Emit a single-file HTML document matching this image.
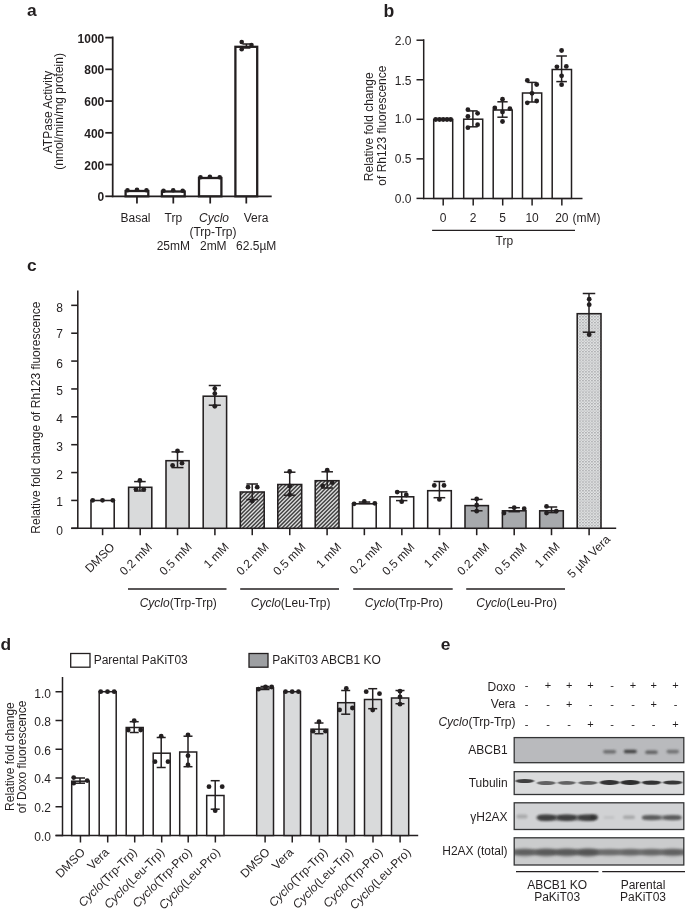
<!DOCTYPE html>
<html lang="en"><head><meta charset="utf-8"><title>Figure</title>
<style>
html,body{margin:0;padding:0;background:#fff;}
svg{display:block;font-family:"Liberation Sans",sans-serif;will-change:transform;transform:translateZ(0);}
text{fill:#231f20;}
</style></head><body>
<svg width="685" height="913" viewBox="0 0 685 913">
<rect width="685" height="913" fill="#fff"/>

<defs>
<pattern id="hatch" width="2.6" height="2.6" patternUnits="userSpaceOnUse" patternTransform="rotate(-45)">
<rect width="2.6" height="2.6" fill="#c9cacc"/><rect width="2.6" height="1.1" fill="#3a3a3a"/>
</pattern>
<pattern id="dots" width="3" height="2.9" patternUnits="userSpaceOnUse">
<rect width="3" height="2.9" fill="#e4e5e6"/><rect x="0.2" y="0.2" width="1.5" height="1.1" fill="#8f9193"/><rect x="1.7" y="1.65" width="1.3" height="1.0" fill="#b4b6b8"/>
</pattern>
<filter id="b1" x="-30%" y="-100%" width="160%" height="300%"><feGaussianBlur stdDeviation="1.1 0.9"/></filter>
<filter id="b2" x="-30%" y="-100%" width="160%" height="300%"><feGaussianBlur stdDeviation="2.0 1.4"/></filter>
<filter id="b3" x="-30%" y="-100%" width="160%" height="300%"><feGaussianBlur stdDeviation="0.8 0.6"/></filter>
<filter id="b4" x="-10%" y="-100%" width="120%" height="300%"><feGaussianBlur stdDeviation="1.5 1.2"/></filter>
<clipPath id="clipE"><rect x="500" y="730" width="185" height="140"/></clipPath>
</defs>

<text x="27.00" y="15.60" font-size="17.4" text-anchor="start" font-weight="bold" >a</text>
<text x="383.40" y="17.20" font-size="17.6" text-anchor="start" font-weight="bold" >b</text>
<text x="27.00" y="271.20" font-size="17.4" text-anchor="start" font-weight="bold" >c</text>
<text x="0.40" y="649.90" font-size="17.4" text-anchor="start" font-weight="bold" >d</text>
<text x="440.80" y="649.60" font-size="17.4" text-anchor="start" font-weight="bold" >e</text>
<line x1="112.70" y1="36.52" x2="112.70" y2="197.18" stroke="#231f20" stroke-width="1.75" />
<line x1="111.83" y1="196.30" x2="271.70" y2="196.30" stroke="#231f20" stroke-width="1.75" />
<line x1="105.30" y1="196.30" x2="112.70" y2="196.30" stroke="#231f20" stroke-width="1.75" />
<text x="104.30" y="200.80" font-size="12" text-anchor="end" font-weight="bold" >0</text>
<line x1="105.30" y1="164.56" x2="112.70" y2="164.56" stroke="#231f20" stroke-width="1.75" />
<text x="104.30" y="169.56" font-size="12" text-anchor="end" font-weight="bold" >200</text>
<line x1="105.30" y1="132.82" x2="112.70" y2="132.82" stroke="#231f20" stroke-width="1.75" />
<text x="104.30" y="137.82" font-size="12" text-anchor="end" font-weight="bold" >400</text>
<line x1="105.30" y1="101.08" x2="112.70" y2="101.08" stroke="#231f20" stroke-width="1.75" />
<text x="104.30" y="106.08" font-size="12" text-anchor="end" font-weight="bold" >600</text>
<line x1="105.30" y1="69.34" x2="112.70" y2="69.34" stroke="#231f20" stroke-width="1.75" />
<text x="104.30" y="74.34" font-size="12" text-anchor="end" font-weight="bold" >800</text>
<line x1="105.30" y1="37.60" x2="112.70" y2="37.60" stroke="#231f20" stroke-width="1.75" />
<text x="104.30" y="42.60" font-size="12" text-anchor="end" font-weight="bold" >1000</text>
<rect x="125.60" y="191.00" width="22.70" height="5.30" fill="#fff" stroke="#231f20" stroke-width="2.3" />
<line x1="136.95" y1="196.30" x2="136.95" y2="203.50" stroke="#231f20" stroke-width="1.75" />
<rect x="161.90" y="191.50" width="22.80" height="4.80" fill="#fff" stroke="#231f20" stroke-width="2.3" />
<line x1="173.30" y1="196.30" x2="173.30" y2="203.50" stroke="#231f20" stroke-width="1.75" />
<rect x="199.00" y="178.00" width="22.40" height="18.30" fill="#fff" stroke="#231f20" stroke-width="2.3" />
<line x1="210.20" y1="196.30" x2="210.20" y2="203.50" stroke="#231f20" stroke-width="1.75" />
<rect x="235.40" y="46.80" width="21.80" height="149.50" fill="#fff" stroke="#231f20" stroke-width="2.3" />
<line x1="246.30" y1="196.30" x2="246.30" y2="203.50" stroke="#231f20" stroke-width="1.75" />
<circle cx="127.50" cy="190.30" r="2.3" fill="#231f20"/>
<circle cx="137.00" cy="189.80" r="2.3" fill="#231f20"/>
<circle cx="146.50" cy="190.30" r="2.3" fill="#231f20"/>
<circle cx="163.50" cy="190.80" r="2.3" fill="#231f20"/>
<circle cx="173.20" cy="190.30" r="2.3" fill="#231f20"/>
<circle cx="182.70" cy="190.80" r="2.3" fill="#231f20"/>
<circle cx="200.50" cy="177.30" r="2.3" fill="#231f20"/>
<circle cx="209.90" cy="176.80" r="2.3" fill="#231f20"/>
<circle cx="219.70" cy="177.30" r="2.3" fill="#231f20"/>
<circle cx="241.70" cy="42.00" r="2.3" fill="#231f20"/>
<circle cx="241.70" cy="49.20" r="2.3" fill="#231f20"/>
<circle cx="251.50" cy="45.00" r="2.3" fill="#231f20"/>
<line x1="246.40" y1="44.00" x2="246.40" y2="48.00" stroke="#231f20" stroke-width="1.5" />
<line x1="242.40" y1="44.00" x2="250.40" y2="44.00" stroke="#231f20" stroke-width="1.5" />
<line x1="242.40" y1="48.00" x2="250.40" y2="48.00" stroke="#231f20" stroke-width="1.5" />
<text x="135.50" y="221.80" font-size="12" text-anchor="middle" font-weight="normal" >Basal</text>
<text x="173.30" y="221.80" font-size="12" text-anchor="middle" font-weight="normal" >Trp</text>
<text x="214.00" y="221.80" font-size="12" text-anchor="middle" font-weight="normal" ><tspan font-style="italic">Cyclo</tspan></text>
<text x="256.00" y="221.80" font-size="12" text-anchor="middle" font-weight="normal" >Vera</text>
<text x="213.00" y="236.00" font-size="12" text-anchor="middle" font-weight="normal" >(Trp-Trp)</text>
<text x="173.30" y="250.00" font-size="12" text-anchor="middle" font-weight="normal" >25mM</text>
<text x="213.30" y="250.00" font-size="12" text-anchor="middle" font-weight="normal" >2mM</text>
<text x="256.20" y="250.00" font-size="12" text-anchor="middle" font-weight="normal" >62.5µM</text>
<text x="51.90" y="112.00" font-size="12" text-anchor="middle" font-weight="normal" transform="rotate(-90 51.90 112.00)" >ATPase Activity</text>
<text x="63.30" y="111.40" font-size="12" text-anchor="middle" font-weight="normal" transform="rotate(-90 63.30 111.40)" >(nmol/min/mg protein)</text>
<line x1="423.70" y1="39.25" x2="423.70" y2="199.15" stroke="#231f20" stroke-width="1.5" />
<line x1="422.95" y1="198.40" x2="582.50" y2="198.40" stroke="#231f20" stroke-width="1.5" />
<line x1="416.50" y1="198.40" x2="423.70" y2="198.40" stroke="#231f20" stroke-width="1.5" />
<text x="411.40" y="203.00" font-size="12" text-anchor="end" font-weight="normal" >0.0</text>
<line x1="416.50" y1="158.85" x2="423.70" y2="158.85" stroke="#231f20" stroke-width="1.5" />
<text x="411.40" y="162.90" font-size="12" text-anchor="end" font-weight="normal" >0.5</text>
<line x1="416.50" y1="119.30" x2="423.70" y2="119.30" stroke="#231f20" stroke-width="1.5" />
<text x="411.40" y="123.10" font-size="12" text-anchor="end" font-weight="normal" >1.0</text>
<line x1="416.50" y1="79.75" x2="423.70" y2="79.75" stroke="#231f20" stroke-width="1.5" />
<text x="411.40" y="85.10" font-size="12" text-anchor="end" font-weight="normal" >1.5</text>
<line x1="416.50" y1="40.20" x2="423.70" y2="40.20" stroke="#231f20" stroke-width="1.5" />
<text x="411.40" y="44.65" font-size="12" text-anchor="end" font-weight="normal" >2.0</text>
<rect x="433.70" y="119.40" width="19.00" height="79.00" fill="#fff" stroke="#231f20" stroke-width="1.5" />
<line x1="443.20" y1="198.40" x2="443.20" y2="205.50" stroke="#231f20" stroke-width="1.5" />
<rect x="463.70" y="119.20" width="19.00" height="79.20" fill="#fff" stroke="#231f20" stroke-width="1.5" />
<line x1="473.20" y1="198.40" x2="473.20" y2="205.50" stroke="#231f20" stroke-width="1.5" />
<rect x="493.20" y="110.00" width="19.00" height="88.40" fill="#fff" stroke="#231f20" stroke-width="1.5" />
<line x1="502.70" y1="198.40" x2="502.70" y2="205.50" stroke="#231f20" stroke-width="1.5" />
<rect x="522.50" y="93.00" width="19.20" height="105.40" fill="#fff" stroke="#231f20" stroke-width="1.5" />
<line x1="532.10" y1="198.40" x2="532.10" y2="205.50" stroke="#231f20" stroke-width="1.5" />
<rect x="552.20" y="69.50" width="19.30" height="128.90" fill="#fff" stroke="#231f20" stroke-width="1.5" />
<line x1="561.85" y1="198.40" x2="561.85" y2="205.50" stroke="#231f20" stroke-width="1.5" />
<text x="443.20" y="222.00" font-size="12" text-anchor="middle" font-weight="normal" >0</text>
<text x="473.20" y="222.00" font-size="12" text-anchor="middle" font-weight="normal" >2</text>
<text x="502.70" y="222.00" font-size="12" text-anchor="middle" font-weight="normal" >5</text>
<text x="532.10" y="222.00" font-size="12" text-anchor="middle" font-weight="normal" >10</text>
<text x="561.85" y="222.00" font-size="12" text-anchor="middle" font-weight="normal" >20</text>
<text x="572.40" y="222.00" font-size="12" text-anchor="start" font-weight="normal" >(mM)</text>
<line x1="432.10" y1="230.30" x2="575.00" y2="230.30" stroke="#231f20" stroke-width="1.3" />
<text x="504.40" y="244.80" font-size="12" text-anchor="middle" font-weight="normal" >Trp</text>
<text x="373.50" y="126.80" font-size="12" text-anchor="middle" font-weight="normal" transform="rotate(-90 373.50 126.80)" >Relative fold change</text>
<text x="385.90" y="125.60" font-size="12" text-anchor="middle" font-weight="normal" transform="rotate(-90 385.90 125.60)" >of Rh123 fluorescence</text>
<circle cx="435.70" cy="119.50" r="2.4" fill="#231f20"/>
<circle cx="439.50" cy="119.50" r="2.4" fill="#231f20"/>
<circle cx="443.20" cy="119.50" r="2.4" fill="#231f20"/>
<circle cx="447.00" cy="119.50" r="2.4" fill="#231f20"/>
<circle cx="450.70" cy="119.50" r="2.4" fill="#231f20"/>
<line x1="472.90" y1="110.90" x2="472.90" y2="126.80" stroke="#231f20" stroke-width="1.5" />
<line x1="468.15" y1="110.90" x2="477.65" y2="110.90" stroke="#231f20" stroke-width="1.5" />
<line x1="468.15" y1="126.80" x2="477.65" y2="126.80" stroke="#231f20" stroke-width="1.5" />
<circle cx="467.90" cy="109.70" r="2.4" fill="#231f20"/>
<circle cx="477.60" cy="113.30" r="2.4" fill="#231f20"/>
<circle cx="467.90" cy="116.50" r="2.4" fill="#231f20"/>
<circle cx="477.60" cy="124.70" r="2.4" fill="#231f20"/>
<circle cx="467.90" cy="127.70" r="2.4" fill="#231f20"/>
<line x1="502.50" y1="101.80" x2="502.50" y2="117.20" stroke="#231f20" stroke-width="1.5" />
<line x1="497.35" y1="101.80" x2="507.65" y2="101.80" stroke="#231f20" stroke-width="1.5" />
<line x1="497.35" y1="117.20" x2="507.65" y2="117.20" stroke="#231f20" stroke-width="1.5" />
<circle cx="502.50" cy="99.20" r="2.4" fill="#231f20"/>
<circle cx="494.80" cy="108.00" r="2.4" fill="#231f20"/>
<circle cx="509.90" cy="108.70" r="2.4" fill="#231f20"/>
<circle cx="502.50" cy="111.90" r="2.4" fill="#231f20"/>
<circle cx="502.50" cy="121.50" r="2.4" fill="#231f20"/>
<line x1="532.00" y1="82.40" x2="532.00" y2="102.00" stroke="#231f20" stroke-width="1.5" />
<line x1="527.30" y1="82.40" x2="536.70" y2="82.40" stroke="#231f20" stroke-width="1.5" />
<line x1="527.30" y1="102.00" x2="536.70" y2="102.00" stroke="#231f20" stroke-width="1.5" />
<circle cx="527.30" cy="80.40" r="2.4" fill="#231f20"/>
<circle cx="536.70" cy="84.50" r="2.4" fill="#231f20"/>
<circle cx="532.00" cy="93.30" r="2.4" fill="#231f20"/>
<circle cx="527.30" cy="102.80" r="2.4" fill="#231f20"/>
<circle cx="536.70" cy="101.00" r="2.4" fill="#231f20"/>
<line x1="561.60" y1="56.00" x2="561.60" y2="81.60" stroke="#231f20" stroke-width="1.5" />
<line x1="556.30" y1="56.00" x2="566.90" y2="56.00" stroke="#231f20" stroke-width="1.5" />
<line x1="556.30" y1="81.60" x2="566.90" y2="81.60" stroke="#231f20" stroke-width="1.5" />
<circle cx="561.60" cy="50.50" r="2.4" fill="#231f20"/>
<circle cx="556.90" cy="66.80" r="2.4" fill="#231f20"/>
<circle cx="566.30" cy="66.40" r="2.4" fill="#231f20"/>
<circle cx="561.60" cy="75.80" r="2.4" fill="#231f20"/>
<circle cx="561.60" cy="84.70" r="2.4" fill="#231f20"/>
<line x1="77.80" y1="290.50" x2="77.80" y2="529.07" stroke="#231f20" stroke-width="1.55" />
<line x1="71.20" y1="528.30" x2="616.20" y2="528.30" stroke="#231f20" stroke-width="1.55" />
<line x1="71.20" y1="528.30" x2="77.80" y2="528.30" stroke="#231f20" stroke-width="1.55" />
<text x="63.00" y="534.80" font-size="12" text-anchor="end" font-weight="normal" >0</text>
<line x1="71.20" y1="500.43" x2="77.80" y2="500.43" stroke="#231f20" stroke-width="1.55" />
<text x="63.00" y="505.83" font-size="12" text-anchor="end" font-weight="normal" >1</text>
<line x1="71.20" y1="472.56" x2="77.80" y2="472.56" stroke="#231f20" stroke-width="1.55" />
<text x="63.00" y="478.61" font-size="12" text-anchor="end" font-weight="normal" >2</text>
<line x1="71.20" y1="444.69" x2="77.80" y2="444.69" stroke="#231f20" stroke-width="1.55" />
<text x="63.00" y="451.29" font-size="12" text-anchor="end" font-weight="normal" >3</text>
<line x1="71.20" y1="416.82" x2="77.80" y2="416.82" stroke="#231f20" stroke-width="1.55" />
<text x="63.00" y="422.72" font-size="12" text-anchor="end" font-weight="normal" >4</text>
<line x1="71.20" y1="388.95" x2="77.80" y2="388.95" stroke="#231f20" stroke-width="1.55" />
<text x="63.00" y="394.95" font-size="12" text-anchor="end" font-weight="normal" >5</text>
<line x1="71.20" y1="361.08" x2="77.80" y2="361.08" stroke="#231f20" stroke-width="1.55" />
<text x="63.00" y="367.88" font-size="12" text-anchor="end" font-weight="normal" >6</text>
<line x1="71.20" y1="333.21" x2="77.80" y2="333.21" stroke="#231f20" stroke-width="1.55" />
<text x="63.00" y="338.41" font-size="12" text-anchor="end" font-weight="normal" >7</text>
<line x1="71.20" y1="305.34" x2="77.80" y2="305.34" stroke="#231f20" stroke-width="1.55" />
<text x="63.00" y="311.54" font-size="12" text-anchor="end" font-weight="normal" >8</text>
<text x="40.00" y="417.60" font-size="12" text-anchor="middle" font-weight="normal" transform="rotate(-90 40.00 417.60)" >Relative fold change of Rh123 fluorescence</text>
<rect x="91.00" y="500.50" width="23.20" height="27.80" fill="#fff" stroke="#231f20" stroke-width="1.55" />
<line x1="102.60" y1="528.30" x2="102.60" y2="535.20" stroke="#231f20" stroke-width="1.55" />
<text x="115.40" y="547.80" font-size="12" text-anchor="end" font-weight="normal" transform="rotate(-45 115.40 547.80)" >DMSO</text>
<rect x="128.60" y="487.30" width="23.20" height="41.00" fill="#d9dadb" stroke="#231f20" stroke-width="1.55" />
<line x1="140.20" y1="528.30" x2="140.20" y2="535.20" stroke="#231f20" stroke-width="1.55" />
<text x="152.90" y="547.80" font-size="12" text-anchor="end" font-weight="normal" transform="rotate(-45 152.90 547.80)" >0.2 mM</text>
<rect x="166.00" y="460.70" width="23.10" height="67.60" fill="#d9dadb" stroke="#231f20" stroke-width="1.55" />
<line x1="177.55" y1="528.30" x2="177.55" y2="535.20" stroke="#231f20" stroke-width="1.55" />
<text x="192.55" y="547.80" font-size="12" text-anchor="end" font-weight="normal" transform="rotate(-45 192.55 547.80)" >0.5 mM</text>
<rect x="203.20" y="396.20" width="23.40" height="132.10" fill="#d9dadb" stroke="#231f20" stroke-width="1.55" />
<line x1="214.90" y1="528.30" x2="214.90" y2="535.20" stroke="#231f20" stroke-width="1.55" />
<text x="229.60" y="547.80" font-size="12" text-anchor="end" font-weight="normal" transform="rotate(-45 229.60 547.80)" >1 mM</text>
<clipPath id="hc240"><rect x="240.30" y="492.00" width="23.90" height="36.30"/></clipPath>
<g clip-path="url(#hc240)"><rect x="240.30" y="492.00" width="23.90" height="36.30" fill="#dfdfdf"/>
<line x1="238.30" y1="489.40" x2="266.20" y2="461.50" stroke="#3f3f3f" stroke-width="1.42"/>
<line x1="238.30" y1="493.32" x2="266.20" y2="465.42" stroke="#3f3f3f" stroke-width="1.42"/>
<line x1="238.30" y1="497.24" x2="266.20" y2="469.34" stroke="#3f3f3f" stroke-width="1.42"/>
<line x1="238.30" y1="501.16" x2="266.20" y2="473.26" stroke="#3f3f3f" stroke-width="1.42"/>
<line x1="238.30" y1="505.08" x2="266.20" y2="477.18" stroke="#3f3f3f" stroke-width="1.42"/>
<line x1="238.30" y1="509.00" x2="266.20" y2="481.10" stroke="#3f3f3f" stroke-width="1.42"/>
<line x1="238.30" y1="512.92" x2="266.20" y2="485.02" stroke="#3f3f3f" stroke-width="1.42"/>
<line x1="238.30" y1="516.84" x2="266.20" y2="488.94" stroke="#3f3f3f" stroke-width="1.42"/>
<line x1="238.30" y1="520.76" x2="266.20" y2="492.86" stroke="#3f3f3f" stroke-width="1.42"/>
<line x1="238.30" y1="524.68" x2="266.20" y2="496.78" stroke="#3f3f3f" stroke-width="1.42"/>
<line x1="238.30" y1="528.60" x2="266.20" y2="500.70" stroke="#3f3f3f" stroke-width="1.42"/>
<line x1="238.30" y1="532.52" x2="266.20" y2="504.62" stroke="#3f3f3f" stroke-width="1.42"/>
<line x1="238.30" y1="536.44" x2="266.20" y2="508.54" stroke="#3f3f3f" stroke-width="1.42"/>
<line x1="238.30" y1="540.36" x2="266.20" y2="512.46" stroke="#3f3f3f" stroke-width="1.42"/>
<line x1="238.30" y1="544.28" x2="266.20" y2="516.38" stroke="#3f3f3f" stroke-width="1.42"/>
<line x1="238.30" y1="548.20" x2="266.20" y2="520.30" stroke="#3f3f3f" stroke-width="1.42"/>
<line x1="238.30" y1="552.12" x2="266.20" y2="524.22" stroke="#3f3f3f" stroke-width="1.42"/>
<line x1="238.30" y1="556.04" x2="266.20" y2="528.14" stroke="#3f3f3f" stroke-width="1.42"/>
</g>
<rect x="240.30" y="492.00" width="23.90" height="36.30" fill="none" stroke="#231f20" stroke-width="1.55" />
<line x1="252.25" y1="528.30" x2="252.25" y2="535.20" stroke="#231f20" stroke-width="1.55" />
<text x="269.55" y="547.80" font-size="12" text-anchor="end" font-weight="normal" transform="rotate(-45 269.55 547.80)" >0.2 mM</text>
<clipPath id="hc277"><rect x="277.80" y="484.50" width="23.90" height="43.80"/></clipPath>
<g clip-path="url(#hc277)"><rect x="277.80" y="484.50" width="23.90" height="43.80" fill="#dfdfdf"/>
<line x1="275.80" y1="483.26" x2="303.70" y2="455.36" stroke="#3f3f3f" stroke-width="1.42"/>
<line x1="275.80" y1="487.18" x2="303.70" y2="459.28" stroke="#3f3f3f" stroke-width="1.42"/>
<line x1="275.80" y1="491.10" x2="303.70" y2="463.20" stroke="#3f3f3f" stroke-width="1.42"/>
<line x1="275.80" y1="495.02" x2="303.70" y2="467.12" stroke="#3f3f3f" stroke-width="1.42"/>
<line x1="275.80" y1="498.94" x2="303.70" y2="471.04" stroke="#3f3f3f" stroke-width="1.42"/>
<line x1="275.80" y1="502.86" x2="303.70" y2="474.96" stroke="#3f3f3f" stroke-width="1.42"/>
<line x1="275.80" y1="506.78" x2="303.70" y2="478.88" stroke="#3f3f3f" stroke-width="1.42"/>
<line x1="275.80" y1="510.70" x2="303.70" y2="482.80" stroke="#3f3f3f" stroke-width="1.42"/>
<line x1="275.80" y1="514.62" x2="303.70" y2="486.72" stroke="#3f3f3f" stroke-width="1.42"/>
<line x1="275.80" y1="518.54" x2="303.70" y2="490.64" stroke="#3f3f3f" stroke-width="1.42"/>
<line x1="275.80" y1="522.46" x2="303.70" y2="494.56" stroke="#3f3f3f" stroke-width="1.42"/>
<line x1="275.80" y1="526.38" x2="303.70" y2="498.48" stroke="#3f3f3f" stroke-width="1.42"/>
<line x1="275.80" y1="530.30" x2="303.70" y2="502.40" stroke="#3f3f3f" stroke-width="1.42"/>
<line x1="275.80" y1="534.22" x2="303.70" y2="506.32" stroke="#3f3f3f" stroke-width="1.42"/>
<line x1="275.80" y1="538.14" x2="303.70" y2="510.24" stroke="#3f3f3f" stroke-width="1.42"/>
<line x1="275.80" y1="542.06" x2="303.70" y2="514.16" stroke="#3f3f3f" stroke-width="1.42"/>
<line x1="275.80" y1="545.98" x2="303.70" y2="518.08" stroke="#3f3f3f" stroke-width="1.42"/>
<line x1="275.80" y1="549.90" x2="303.70" y2="522.00" stroke="#3f3f3f" stroke-width="1.42"/>
<line x1="275.80" y1="553.82" x2="303.70" y2="525.92" stroke="#3f3f3f" stroke-width="1.42"/>
<line x1="275.80" y1="557.74" x2="303.70" y2="529.84" stroke="#3f3f3f" stroke-width="1.42"/>
</g>
<rect x="277.80" y="484.50" width="23.90" height="43.80" fill="none" stroke="#231f20" stroke-width="1.55" />
<line x1="289.75" y1="528.30" x2="289.75" y2="535.20" stroke="#231f20" stroke-width="1.55" />
<text x="306.25" y="547.80" font-size="12" text-anchor="end" font-weight="normal" transform="rotate(-45 306.25 547.80)" >0.5 mM</text>
<clipPath id="hc315"><rect x="315.20" y="480.70" width="23.80" height="47.60"/></clipPath>
<g clip-path="url(#hc315)"><rect x="315.20" y="480.70" width="23.80" height="47.60" fill="#dfdfdf"/>
<line x1="313.20" y1="481.14" x2="341.00" y2="453.34" stroke="#3f3f3f" stroke-width="1.42"/>
<line x1="313.20" y1="485.06" x2="341.00" y2="457.26" stroke="#3f3f3f" stroke-width="1.42"/>
<line x1="313.20" y1="488.98" x2="341.00" y2="461.18" stroke="#3f3f3f" stroke-width="1.42"/>
<line x1="313.20" y1="492.90" x2="341.00" y2="465.10" stroke="#3f3f3f" stroke-width="1.42"/>
<line x1="313.20" y1="496.82" x2="341.00" y2="469.02" stroke="#3f3f3f" stroke-width="1.42"/>
<line x1="313.20" y1="500.74" x2="341.00" y2="472.94" stroke="#3f3f3f" stroke-width="1.42"/>
<line x1="313.20" y1="504.66" x2="341.00" y2="476.86" stroke="#3f3f3f" stroke-width="1.42"/>
<line x1="313.20" y1="508.58" x2="341.00" y2="480.78" stroke="#3f3f3f" stroke-width="1.42"/>
<line x1="313.20" y1="512.50" x2="341.00" y2="484.70" stroke="#3f3f3f" stroke-width="1.42"/>
<line x1="313.20" y1="516.42" x2="341.00" y2="488.62" stroke="#3f3f3f" stroke-width="1.42"/>
<line x1="313.20" y1="520.34" x2="341.00" y2="492.54" stroke="#3f3f3f" stroke-width="1.42"/>
<line x1="313.20" y1="524.26" x2="341.00" y2="496.46" stroke="#3f3f3f" stroke-width="1.42"/>
<line x1="313.20" y1="528.18" x2="341.00" y2="500.38" stroke="#3f3f3f" stroke-width="1.42"/>
<line x1="313.20" y1="532.10" x2="341.00" y2="504.30" stroke="#3f3f3f" stroke-width="1.42"/>
<line x1="313.20" y1="536.02" x2="341.00" y2="508.22" stroke="#3f3f3f" stroke-width="1.42"/>
<line x1="313.20" y1="539.94" x2="341.00" y2="512.14" stroke="#3f3f3f" stroke-width="1.42"/>
<line x1="313.20" y1="543.86" x2="341.00" y2="516.06" stroke="#3f3f3f" stroke-width="1.42"/>
<line x1="313.20" y1="547.78" x2="341.00" y2="519.98" stroke="#3f3f3f" stroke-width="1.42"/>
<line x1="313.20" y1="551.70" x2="341.00" y2="523.90" stroke="#3f3f3f" stroke-width="1.42"/>
<line x1="313.20" y1="555.62" x2="341.00" y2="527.82" stroke="#3f3f3f" stroke-width="1.42"/>
</g>
<rect x="315.20" y="480.70" width="23.80" height="47.60" fill="none" stroke="#231f20" stroke-width="1.55" />
<line x1="327.10" y1="528.30" x2="327.10" y2="535.20" stroke="#231f20" stroke-width="1.55" />
<text x="342.10" y="547.80" font-size="12" text-anchor="end" font-weight="normal" transform="rotate(-45 342.10 547.80)" >1 mM</text>
<rect x="352.50" y="503.80" width="23.70" height="24.50" fill="#fff" stroke="#231f20" stroke-width="1.55" />
<line x1="364.35" y1="528.30" x2="364.35" y2="535.20" stroke="#231f20" stroke-width="1.55" />
<text x="382.85" y="546.80" font-size="12" text-anchor="end" font-weight="normal" transform="rotate(-45 382.85 546.80)" >0.2 mM</text>
<rect x="390.00" y="496.80" width="23.70" height="31.50" fill="#fff" stroke="#231f20" stroke-width="1.55" />
<line x1="401.85" y1="528.30" x2="401.85" y2="535.20" stroke="#231f20" stroke-width="1.55" />
<text x="415.35" y="547.80" font-size="12" text-anchor="end" font-weight="normal" transform="rotate(-45 415.35 547.80)" >0.5 mM</text>
<rect x="427.70" y="490.70" width="23.60" height="37.60" fill="#fff" stroke="#231f20" stroke-width="1.55" />
<line x1="439.50" y1="528.30" x2="439.50" y2="535.20" stroke="#231f20" stroke-width="1.55" />
<text x="450.00" y="547.30" font-size="12" text-anchor="end" font-weight="normal" transform="rotate(-45 450.00 547.30)" >1 mM</text>
<rect x="465.00" y="505.60" width="23.40" height="22.70" fill="#a7a9ac" stroke="#231f20" stroke-width="1.55" />
<line x1="476.70" y1="528.30" x2="476.70" y2="535.20" stroke="#231f20" stroke-width="1.55" />
<text x="490.20" y="547.80" font-size="12" text-anchor="end" font-weight="normal" transform="rotate(-45 490.20 547.80)" >0.2 mM</text>
<rect x="502.40" y="510.80" width="23.60" height="17.50" fill="#a7a9ac" stroke="#231f20" stroke-width="1.55" />
<line x1="514.20" y1="528.30" x2="514.20" y2="535.20" stroke="#231f20" stroke-width="1.55" />
<text x="527.70" y="547.80" font-size="12" text-anchor="end" font-weight="normal" transform="rotate(-45 527.70 547.80)" >0.5 mM</text>
<rect x="539.70" y="510.80" width="23.60" height="17.50" fill="#a7a9ac" stroke="#231f20" stroke-width="1.55" />
<line x1="551.50" y1="528.30" x2="551.50" y2="535.20" stroke="#231f20" stroke-width="1.55" />
<text x="560.70" y="547.30" font-size="12" text-anchor="end" font-weight="normal" transform="rotate(-45 560.70 547.30)" >1 mM</text>
<rect x="577.20" y="313.70" width="23.80" height="214.60" fill="url(#dots)" stroke="#231f20" stroke-width="1.55" />
<line x1="589.10" y1="528.30" x2="589.10" y2="535.20" stroke="#231f20" stroke-width="1.55" />
<text x="611.00" y="540.00" font-size="12" text-anchor="end" font-weight="normal" transform="rotate(-45 611.00 540.00)" >5 µM Vera</text>
<line x1="128.00" y1="589.00" x2="226.50" y2="589.00" stroke="#231f20" stroke-width="1.3" />
<text x="178.25" y="607.00" font-size="12" text-anchor="middle" font-weight="normal" ><tspan font-style="italic">Cyclo</tspan>(Trp-Trp)</text>
<line x1="240.20" y1="589.00" x2="339.00" y2="589.00" stroke="#231f20" stroke-width="1.3" />
<text x="290.60" y="607.00" font-size="12" text-anchor="middle" font-weight="normal" ><tspan font-style="italic">Cyclo</tspan>(Leu-Trp)</text>
<line x1="353.20" y1="589.00" x2="452.70" y2="589.00" stroke="#231f20" stroke-width="1.3" />
<text x="403.95" y="607.00" font-size="12" text-anchor="middle" font-weight="normal" ><tspan font-style="italic">Cyclo</tspan>(Trp-Pro)</text>
<line x1="466.20" y1="589.00" x2="565.00" y2="589.00" stroke="#231f20" stroke-width="1.3" />
<text x="516.60" y="607.00" font-size="12" text-anchor="middle" font-weight="normal" ><tspan font-style="italic">Cyclo</tspan>(Leu-Pro)</text>
<circle cx="92.70" cy="500.30" r="2.4" fill="#231f20"/>
<circle cx="102.50" cy="500.30" r="2.4" fill="#231f20"/>
<circle cx="112.80" cy="500.30" r="2.4" fill="#231f20"/>
<line x1="139.90" y1="481.60" x2="139.90" y2="491.00" stroke="#231f20" stroke-width="1.5" />
<line x1="134.10" y1="481.60" x2="145.70" y2="481.60" stroke="#231f20" stroke-width="1.5" />
<line x1="134.10" y1="491.00" x2="145.70" y2="491.00" stroke="#231f20" stroke-width="1.5" />
<circle cx="139.90" cy="480.50" r="2.4" fill="#231f20"/>
<circle cx="136.00" cy="489.30" r="2.4" fill="#231f20"/>
<circle cx="143.70" cy="489.30" r="2.4" fill="#231f20"/>
<line x1="177.50" y1="451.90" x2="177.50" y2="467.60" stroke="#231f20" stroke-width="1.5" />
<line x1="171.50" y1="451.90" x2="183.50" y2="451.90" stroke="#231f20" stroke-width="1.5" />
<line x1="171.50" y1="467.60" x2="183.50" y2="467.60" stroke="#231f20" stroke-width="1.5" />
<circle cx="177.50" cy="451.00" r="2.4" fill="#231f20"/>
<circle cx="172.60" cy="465.40" r="2.4" fill="#231f20"/>
<circle cx="182.00" cy="463.20" r="2.4" fill="#231f20"/>
<line x1="214.80" y1="385.50" x2="214.80" y2="405.20" stroke="#231f20" stroke-width="1.5" />
<line x1="208.75" y1="385.50" x2="220.85" y2="385.50" stroke="#231f20" stroke-width="1.5" />
<line x1="208.75" y1="405.20" x2="220.85" y2="405.20" stroke="#231f20" stroke-width="1.5" />
<circle cx="214.80" cy="388.60" r="2.4" fill="#231f20"/>
<circle cx="214.80" cy="393.60" r="2.4" fill="#231f20"/>
<circle cx="214.80" cy="406.30" r="2.4" fill="#231f20"/>
<line x1="252.20" y1="484.00" x2="252.20" y2="499.60" stroke="#231f20" stroke-width="1.5" />
<line x1="246.45" y1="484.00" x2="257.95" y2="484.00" stroke="#231f20" stroke-width="1.5" />
<line x1="246.45" y1="499.60" x2="257.95" y2="499.60" stroke="#231f20" stroke-width="1.5" />
<circle cx="248.00" cy="487.20" r="2.4" fill="#231f20"/>
<circle cx="257.20" cy="487.20" r="2.4" fill="#231f20"/>
<circle cx="252.20" cy="501.00" r="2.4" fill="#231f20"/>
<line x1="289.70" y1="472.20" x2="289.70" y2="495.20" stroke="#231f20" stroke-width="1.5" />
<line x1="283.95" y1="472.20" x2="295.45" y2="472.20" stroke="#231f20" stroke-width="1.5" />
<line x1="283.95" y1="495.20" x2="295.45" y2="495.20" stroke="#231f20" stroke-width="1.5" />
<circle cx="289.70" cy="471.50" r="2.4" fill="#231f20"/>
<circle cx="289.70" cy="486.00" r="2.4" fill="#231f20"/>
<circle cx="289.70" cy="494.70" r="2.4" fill="#231f20"/>
<line x1="327.20" y1="471.80" x2="327.20" y2="488.00" stroke="#231f20" stroke-width="1.5" />
<line x1="321.45" y1="471.80" x2="332.95" y2="471.80" stroke="#231f20" stroke-width="1.5" />
<line x1="321.45" y1="488.00" x2="332.95" y2="488.00" stroke="#231f20" stroke-width="1.5" />
<circle cx="327.20" cy="470.20" r="2.4" fill="#231f20"/>
<circle cx="322.70" cy="486.00" r="2.4" fill="#231f20"/>
<circle cx="332.20" cy="482.70" r="2.4" fill="#231f20"/>
<line x1="364.50" y1="502.00" x2="364.50" y2="503.40" stroke="#231f20" stroke-width="1.5" />
<line x1="358.80" y1="502.00" x2="370.20" y2="502.00" stroke="#231f20" stroke-width="1.5" />
<line x1="358.80" y1="503.40" x2="370.20" y2="503.40" stroke="#231f20" stroke-width="1.5" />
<circle cx="354.10" cy="503.80" r="2.4" fill="#231f20"/>
<circle cx="364.30" cy="501.50" r="2.4" fill="#231f20"/>
<circle cx="374.80" cy="503.30" r="2.4" fill="#231f20"/>
<line x1="401.70" y1="491.90" x2="401.70" y2="500.60" stroke="#231f20" stroke-width="1.5" />
<line x1="396.00" y1="491.90" x2="407.40" y2="491.90" stroke="#231f20" stroke-width="1.5" />
<line x1="396.00" y1="500.60" x2="407.40" y2="500.60" stroke="#231f20" stroke-width="1.5" />
<circle cx="397.20" cy="492.10" r="2.4" fill="#231f20"/>
<circle cx="406.30" cy="495.00" r="2.4" fill="#231f20"/>
<circle cx="401.70" cy="501.70" r="2.4" fill="#231f20"/>
<line x1="439.40" y1="481.50" x2="439.40" y2="497.70" stroke="#231f20" stroke-width="1.5" />
<line x1="433.55" y1="481.50" x2="445.25" y2="481.50" stroke="#231f20" stroke-width="1.5" />
<line x1="433.55" y1="497.70" x2="445.25" y2="497.70" stroke="#231f20" stroke-width="1.5" />
<circle cx="434.30" cy="485.40" r="2.4" fill="#231f20"/>
<circle cx="444.00" cy="485.40" r="2.4" fill="#231f20"/>
<circle cx="439.40" cy="499.40" r="2.4" fill="#231f20"/>
<line x1="476.70" y1="499.40" x2="476.70" y2="510.80" stroke="#231f20" stroke-width="1.5" />
<line x1="470.85" y1="499.40" x2="482.55" y2="499.40" stroke="#231f20" stroke-width="1.5" />
<line x1="470.85" y1="510.80" x2="482.55" y2="510.80" stroke="#231f20" stroke-width="1.5" />
<circle cx="476.70" cy="498.90" r="2.4" fill="#231f20"/>
<circle cx="476.70" cy="505.20" r="2.4" fill="#231f20"/>
<circle cx="476.70" cy="511.20" r="2.4" fill="#231f20"/>
<line x1="514.20" y1="507.70" x2="514.20" y2="511.70" stroke="#231f20" stroke-width="1.5" />
<line x1="508.50" y1="507.70" x2="519.90" y2="507.70" stroke="#231f20" stroke-width="1.5" />
<line x1="508.50" y1="511.70" x2="519.90" y2="511.70" stroke="#231f20" stroke-width="1.5" />
<circle cx="504.00" cy="513.10" r="2.4" fill="#231f20"/>
<circle cx="514.20" cy="507.70" r="2.4" fill="#231f20"/>
<circle cx="524.20" cy="508.70" r="2.4" fill="#231f20"/>
<line x1="551.50" y1="507.00" x2="551.50" y2="512.60" stroke="#231f20" stroke-width="1.5" />
<line x1="545.80" y1="507.00" x2="557.20" y2="507.00" stroke="#231f20" stroke-width="1.5" />
<line x1="545.80" y1="512.60" x2="557.20" y2="512.60" stroke="#231f20" stroke-width="1.5" />
<circle cx="546.50" cy="506.40" r="2.4" fill="#231f20"/>
<circle cx="556.30" cy="511.20" r="2.4" fill="#231f20"/>
<circle cx="546.50" cy="513.10" r="2.4" fill="#231f20"/>
<line x1="589.00" y1="293.50" x2="589.00" y2="332.20" stroke="#231f20" stroke-width="1.5" />
<line x1="582.75" y1="293.50" x2="595.25" y2="293.50" stroke="#231f20" stroke-width="1.5" />
<line x1="582.75" y1="332.20" x2="595.25" y2="332.20" stroke="#231f20" stroke-width="1.5" />
<circle cx="589.20" cy="299.20" r="2.4" fill="#231f20"/>
<circle cx="589.20" cy="304.70" r="2.4" fill="#231f20"/>
<circle cx="589.20" cy="334.70" r="2.4" fill="#231f20"/>
<line x1="62.50" y1="677.00" x2="62.50" y2="836.25" stroke="#231f20" stroke-width="1.5" />
<line x1="55.50" y1="835.50" x2="418.20" y2="835.50" stroke="#231f20" stroke-width="1.5" />
<line x1="55.50" y1="835.50" x2="62.50" y2="835.50" stroke="#231f20" stroke-width="1.5" />
<text x="51.00" y="840.60" font-size="12" text-anchor="end" font-weight="normal" >0.0</text>
<line x1="55.50" y1="806.75" x2="62.50" y2="806.75" stroke="#231f20" stroke-width="1.5" />
<text x="51.00" y="811.85" font-size="12" text-anchor="end" font-weight="normal" >0.2</text>
<line x1="55.50" y1="778.00" x2="62.50" y2="778.00" stroke="#231f20" stroke-width="1.5" />
<text x="51.00" y="783.10" font-size="12" text-anchor="end" font-weight="normal" >0.4</text>
<line x1="55.50" y1="749.25" x2="62.50" y2="749.25" stroke="#231f20" stroke-width="1.5" />
<text x="51.00" y="754.55" font-size="12" text-anchor="end" font-weight="normal" >0.6</text>
<line x1="55.50" y1="720.50" x2="62.50" y2="720.50" stroke="#231f20" stroke-width="1.5" />
<text x="51.00" y="725.80" font-size="12" text-anchor="end" font-weight="normal" >0.8</text>
<line x1="55.50" y1="691.75" x2="62.50" y2="691.75" stroke="#231f20" stroke-width="1.5" />
<text x="51.00" y="697.85" font-size="12" text-anchor="end" font-weight="normal" >1.0</text>
<text x="13.80" y="756.60" font-size="12" text-anchor="middle" font-weight="normal" transform="rotate(-90 13.80 756.60)" >Relative fold change</text>
<text x="26.20" y="756.90" font-size="12" text-anchor="middle" font-weight="normal" transform="rotate(-90 26.20 756.90)" >of Doxo fluorescence</text>
<rect x="70.70" y="653.50" width="19.30" height="13.70" fill="#fff" stroke="#231f20" stroke-width="1.3" />
<text x="93.70" y="664.30" font-size="12" text-anchor="start" font-weight="normal" >Parental PaKiT03</text>
<rect x="249.00" y="653.50" width="19.00" height="13.70" fill="#9d9fa2" stroke="#231f20" stroke-width="1.3" />
<text x="272.20" y="664.30" font-size="12" text-anchor="start" font-weight="normal" >PaKiT03 ABCB1 KO</text>
<rect x="71.70" y="781.20" width="17.50" height="54.30" fill="#fff" stroke="#231f20" stroke-width="1.5" />
<line x1="80.45" y1="835.50" x2="80.45" y2="842.50" stroke="#231f20" stroke-width="1.5" />
<text x="85.95" y="853.00" font-size="12" text-anchor="end" font-weight="normal" transform="rotate(-45 85.95 853.00)" >DMSO</text>
<rect x="99.20" y="691.70" width="17.00" height="143.80" fill="#fff" stroke="#231f20" stroke-width="1.5" />
<line x1="107.70" y1="835.50" x2="107.70" y2="842.50" stroke="#231f20" stroke-width="1.5" />
<text x="109.70" y="853.00" font-size="12" text-anchor="end" font-weight="normal" transform="rotate(-45 109.70 853.00)" >Vera</text>
<rect x="126.20" y="727.50" width="17.00" height="108.00" fill="#fff" stroke="#231f20" stroke-width="1.5" />
<line x1="134.70" y1="835.50" x2="134.70" y2="842.50" stroke="#231f20" stroke-width="1.5" />
<text x="137.70" y="853.00" font-size="12" text-anchor="end" font-weight="normal" transform="rotate(-45 137.70 853.00)" ><tspan font-style="italic">Cyclo</tspan>(Trp-Trp)</text>
<rect x="153.20" y="753.20" width="17.00" height="82.30" fill="#fff" stroke="#231f20" stroke-width="1.5" />
<line x1="161.70" y1="835.50" x2="161.70" y2="842.50" stroke="#231f20" stroke-width="1.5" />
<text x="165.20" y="853.00" font-size="12" text-anchor="end" font-weight="normal" transform="rotate(-45 165.20 853.00)" ><tspan font-style="italic">Cyclo</tspan>(Leu-Trp)</text>
<rect x="179.70" y="752.00" width="17.00" height="83.50" fill="#fff" stroke="#231f20" stroke-width="1.5" />
<line x1="188.20" y1="835.50" x2="188.20" y2="842.50" stroke="#231f20" stroke-width="1.5" />
<text x="192.50" y="853.00" font-size="12" text-anchor="end" font-weight="normal" transform="rotate(-45 192.50 853.00)" ><tspan font-style="italic">Cyclo</tspan>(Trp-Pro)</text>
<rect x="206.70" y="795.50" width="17.30" height="40.00" fill="#fff" stroke="#231f20" stroke-width="1.5" />
<line x1="215.35" y1="835.50" x2="215.35" y2="842.50" stroke="#231f20" stroke-width="1.5" />
<text x="220.85" y="853.00" font-size="12" text-anchor="end" font-weight="normal" transform="rotate(-45 220.85 853.00)" ><tspan font-style="italic">Cyclo</tspan>(Leu-Pro)</text>
<rect x="256.70" y="688.00" width="16.80" height="147.50" fill="#d9dadb" stroke="#231f20" stroke-width="1.5" />
<line x1="265.10" y1="835.50" x2="265.10" y2="842.50" stroke="#231f20" stroke-width="1.5" />
<text x="270.60" y="853.00" font-size="12" text-anchor="end" font-weight="normal" transform="rotate(-45 270.60 853.00)" >DMSO</text>
<rect x="284.00" y="691.70" width="16.50" height="143.80" fill="#d9dadb" stroke="#231f20" stroke-width="1.5" />
<line x1="292.25" y1="835.50" x2="292.25" y2="842.50" stroke="#231f20" stroke-width="1.5" />
<text x="294.25" y="853.00" font-size="12" text-anchor="end" font-weight="normal" transform="rotate(-45 294.25 853.00)" >Vera</text>
<rect x="311.00" y="729.20" width="16.70" height="106.30" fill="#d9dadb" stroke="#231f20" stroke-width="1.5" />
<line x1="319.35" y1="835.50" x2="319.35" y2="842.50" stroke="#231f20" stroke-width="1.5" />
<text x="328.25" y="853.00" font-size="12" text-anchor="end" font-weight="normal" transform="rotate(-45 328.25 853.00)" ><tspan font-style="italic">Cyclo</tspan>(Trp-Trp)</text>
<rect x="337.70" y="702.70" width="16.80" height="132.80" fill="#d9dadb" stroke="#231f20" stroke-width="1.5" />
<line x1="346.10" y1="835.50" x2="346.10" y2="842.50" stroke="#231f20" stroke-width="1.5" />
<text x="353.80" y="853.00" font-size="12" text-anchor="end" font-weight="normal" transform="rotate(-45 353.80 853.00)" ><tspan font-style="italic">Cyclo</tspan>(Leu-Trp)</text>
<rect x="364.50" y="699.50" width="17.00" height="136.00" fill="#d9dadb" stroke="#231f20" stroke-width="1.5" />
<line x1="373.00" y1="835.50" x2="373.00" y2="842.50" stroke="#231f20" stroke-width="1.5" />
<text x="383.40" y="853.00" font-size="12" text-anchor="end" font-weight="normal" transform="rotate(-45 383.40 853.00)" ><tspan font-style="italic">Cyclo</tspan>(Trp-Pro)</text>
<rect x="391.50" y="698.00" width="17.20" height="137.50" fill="#d9dadb" stroke="#231f20" stroke-width="1.5" />
<line x1="400.10" y1="835.50" x2="400.10" y2="842.50" stroke="#231f20" stroke-width="1.5" />
<text x="411.60" y="853.00" font-size="12" text-anchor="end" font-weight="normal" transform="rotate(-45 411.60 853.00)" ><tspan font-style="italic">Cyclo</tspan>(Leu-Pro)</text>
<line x1="80.00" y1="778.00" x2="80.00" y2="783.20" stroke="#231f20" stroke-width="1.5" />
<line x1="75.00" y1="778.00" x2="85.00" y2="778.00" stroke="#231f20" stroke-width="1.5" />
<line x1="75.00" y1="783.20" x2="85.00" y2="783.20" stroke="#231f20" stroke-width="1.5" />
<circle cx="73.70" cy="777.60" r="2.4" fill="#231f20"/>
<circle cx="87.20" cy="780.60" r="2.4" fill="#231f20"/>
<circle cx="73.70" cy="783.20" r="2.4" fill="#231f20"/>
<circle cx="100.70" cy="691.70" r="2.4" fill="#231f20"/>
<circle cx="107.50" cy="691.70" r="2.4" fill="#231f20"/>
<circle cx="114.20" cy="691.70" r="2.4" fill="#231f20"/>
<line x1="134.20" y1="721.70" x2="134.20" y2="732.50" stroke="#231f20" stroke-width="1.5" />
<line x1="129.70" y1="721.70" x2="138.70" y2="721.70" stroke="#231f20" stroke-width="1.5" />
<line x1="129.70" y1="732.50" x2="138.70" y2="732.50" stroke="#231f20" stroke-width="1.5" />
<circle cx="134.20" cy="720.70" r="2.4" fill="#231f20"/>
<circle cx="128.20" cy="730.00" r="2.4" fill="#231f20"/>
<circle cx="140.70" cy="730.00" r="2.4" fill="#231f20"/>
<line x1="161.20" y1="737.50" x2="161.20" y2="767.50" stroke="#231f20" stroke-width="1.5" />
<line x1="156.70" y1="737.50" x2="165.70" y2="737.50" stroke="#231f20" stroke-width="1.5" />
<line x1="156.70" y1="767.50" x2="165.70" y2="767.50" stroke="#231f20" stroke-width="1.5" />
<circle cx="161.20" cy="736.20" r="2.4" fill="#231f20"/>
<circle cx="155.00" cy="761.70" r="2.4" fill="#231f20"/>
<circle cx="168.00" cy="761.70" r="2.4" fill="#231f20"/>
<line x1="188.00" y1="736.20" x2="188.00" y2="766.70" stroke="#231f20" stroke-width="1.5" />
<line x1="183.50" y1="736.20" x2="192.50" y2="736.20" stroke="#231f20" stroke-width="1.5" />
<line x1="183.50" y1="766.70" x2="192.50" y2="766.70" stroke="#231f20" stroke-width="1.5" />
<circle cx="188.00" cy="735.00" r="2.4" fill="#231f20"/>
<circle cx="188.00" cy="755.70" r="2.4" fill="#231f20"/>
<circle cx="188.00" cy="765.00" r="2.4" fill="#231f20"/>
<line x1="215.20" y1="780.70" x2="215.20" y2="809.20" stroke="#231f20" stroke-width="1.5" />
<line x1="210.70" y1="780.70" x2="219.70" y2="780.70" stroke="#231f20" stroke-width="1.5" />
<line x1="210.70" y1="809.20" x2="219.70" y2="809.20" stroke="#231f20" stroke-width="1.5" />
<circle cx="209.00" cy="786.70" r="2.4" fill="#231f20"/>
<circle cx="222.20" cy="786.70" r="2.4" fill="#231f20"/>
<circle cx="215.20" cy="810.70" r="2.4" fill="#231f20"/>
<line x1="265.00" y1="686.50" x2="265.00" y2="689.50" stroke="#231f20" stroke-width="1.5" />
<line x1="260.50" y1="686.50" x2="269.50" y2="686.50" stroke="#231f20" stroke-width="1.5" />
<line x1="260.50" y1="689.50" x2="269.50" y2="689.50" stroke="#231f20" stroke-width="1.5" />
<circle cx="258.50" cy="689.20" r="2.4" fill="#231f20"/>
<circle cx="265.50" cy="687.00" r="2.4" fill="#231f20"/>
<circle cx="271.70" cy="687.00" r="2.4" fill="#231f20"/>
<circle cx="285.50" cy="691.70" r="2.4" fill="#231f20"/>
<circle cx="292.20" cy="691.70" r="2.4" fill="#231f20"/>
<circle cx="298.50" cy="691.70" r="2.4" fill="#231f20"/>
<line x1="319.00" y1="723.00" x2="319.00" y2="733.70" stroke="#231f20" stroke-width="1.5" />
<line x1="314.50" y1="723.00" x2="323.50" y2="723.00" stroke="#231f20" stroke-width="1.5" />
<line x1="314.50" y1="733.70" x2="323.50" y2="733.70" stroke="#231f20" stroke-width="1.5" />
<circle cx="319.00" cy="721.70" r="2.4" fill="#231f20"/>
<circle cx="313.00" cy="731.20" r="2.4" fill="#231f20"/>
<circle cx="325.50" cy="731.20" r="2.4" fill="#231f20"/>
<line x1="345.70" y1="690.50" x2="345.70" y2="714.20" stroke="#231f20" stroke-width="1.5" />
<line x1="341.20" y1="690.50" x2="350.20" y2="690.50" stroke="#231f20" stroke-width="1.5" />
<line x1="341.20" y1="714.20" x2="350.20" y2="714.20" stroke="#231f20" stroke-width="1.5" />
<circle cx="346.30" cy="688.40" r="2.4" fill="#231f20"/>
<circle cx="352.40" cy="708.00" r="2.4" fill="#231f20"/>
<circle cx="339.60" cy="709.90" r="2.4" fill="#231f20"/>
<line x1="372.70" y1="688.70" x2="372.70" y2="708.70" stroke="#231f20" stroke-width="1.5" />
<line x1="368.20" y1="688.70" x2="377.20" y2="688.70" stroke="#231f20" stroke-width="1.5" />
<line x1="368.20" y1="708.70" x2="377.20" y2="708.70" stroke="#231f20" stroke-width="1.5" />
<circle cx="366.20" cy="691.70" r="2.4" fill="#231f20"/>
<circle cx="379.50" cy="693.70" r="2.4" fill="#231f20"/>
<circle cx="372.70" cy="710.00" r="2.4" fill="#231f20"/>
<line x1="400.00" y1="690.50" x2="400.00" y2="703.70" stroke="#231f20" stroke-width="1.5" />
<line x1="395.50" y1="690.50" x2="404.50" y2="690.50" stroke="#231f20" stroke-width="1.5" />
<line x1="395.50" y1="703.70" x2="404.50" y2="703.70" stroke="#231f20" stroke-width="1.5" />
<circle cx="400.00" cy="691.20" r="2.4" fill="#231f20"/>
<circle cx="400.00" cy="697.00" r="2.4" fill="#231f20"/>
<circle cx="400.00" cy="704.20" r="2.4" fill="#231f20"/>
<text x="515.50" y="690.80" font-size="12" text-anchor="end" font-weight="normal" >Doxo</text>
<text x="515.50" y="708.10" font-size="12" text-anchor="end" font-weight="normal" >Vera</text>
<text x="515.50" y="725.90" font-size="12" text-anchor="end" font-weight="normal" ><tspan font-style="italic">Cyclo</tspan>(Trp-Trp)</text>
<text x="507.60" y="753.70" font-size="12" text-anchor="end" font-weight="normal" >ABCB1</text>
<text x="507.60" y="787.20" font-size="12" text-anchor="end" font-weight="normal" >Tubulin</text>
<text x="507.60" y="821.20" font-size="12" text-anchor="end" font-weight="normal" >γH2AX</text>
<text x="507.60" y="854.50" font-size="12" text-anchor="end" font-weight="normal" >H2AX (total)</text>
<text x="526.70" y="689.10" font-size="11" text-anchor="middle" font-weight="normal" >-</text>
<text x="548.00" y="689.10" font-size="11" text-anchor="middle" font-weight="normal" >+</text>
<text x="569.20" y="689.10" font-size="11" text-anchor="middle" font-weight="normal" >+</text>
<text x="590.50" y="689.10" font-size="11" text-anchor="middle" font-weight="normal" >+</text>
<text x="612.20" y="689.10" font-size="11" text-anchor="middle" font-weight="normal" >-</text>
<text x="633.00" y="689.10" font-size="11" text-anchor="middle" font-weight="normal" >+</text>
<text x="653.70" y="689.10" font-size="11" text-anchor="middle" font-weight="normal" >+</text>
<text x="675.50" y="689.10" font-size="11" text-anchor="middle" font-weight="normal" >+</text>
<text x="526.70" y="708.10" font-size="11" text-anchor="middle" font-weight="normal" >-</text>
<text x="548.00" y="708.10" font-size="11" text-anchor="middle" font-weight="normal" >-</text>
<text x="569.20" y="708.10" font-size="11" text-anchor="middle" font-weight="normal" >+</text>
<text x="590.50" y="708.10" font-size="11" text-anchor="middle" font-weight="normal" >-</text>
<text x="612.20" y="708.10" font-size="11" text-anchor="middle" font-weight="normal" >-</text>
<text x="633.00" y="708.10" font-size="11" text-anchor="middle" font-weight="normal" >-</text>
<text x="653.70" y="708.10" font-size="11" text-anchor="middle" font-weight="normal" >+</text>
<text x="675.50" y="708.10" font-size="11" text-anchor="middle" font-weight="normal" >-</text>
<text x="526.70" y="727.70" font-size="11" text-anchor="middle" font-weight="normal" >-</text>
<text x="548.00" y="727.70" font-size="11" text-anchor="middle" font-weight="normal" >-</text>
<text x="569.20" y="727.70" font-size="11" text-anchor="middle" font-weight="normal" >-</text>
<text x="590.50" y="727.70" font-size="11" text-anchor="middle" font-weight="normal" >+</text>
<text x="612.20" y="727.70" font-size="11" text-anchor="middle" font-weight="normal" >-</text>
<text x="633.00" y="727.70" font-size="11" text-anchor="middle" font-weight="normal" >-</text>
<text x="653.70" y="727.70" font-size="11" text-anchor="middle" font-weight="normal" >-</text>
<text x="675.50" y="727.70" font-size="11" text-anchor="middle" font-weight="normal" >+</text>
<clipPath id="cb0"><rect x="514.2" y="737.6" width="169.6" height="25.1"/></clipPath>
<rect x="514.2" y="737.6" width="169.6" height="25.1" fill="#b9babd"/>
<g clip-path="url(#cb0)">
<rect x="603.1" y="750.0" width="13.0" height="3.6" rx="1.8" fill="#2e2e2e" opacity="0.55" filter="url(#b1)"/>
<rect x="623.8" y="749.7" width="13.0" height="3.6" rx="1.8" fill="#2e2e2e" opacity="0.85" filter="url(#b1)"/>
<rect x="645.2" y="750.5" width="12.5" height="3.6" rx="1.8" fill="#2e2e2e" opacity="0.62" filter="url(#b1)"/>
<rect x="666.5" y="749.8" width="12.5" height="3.6" rx="1.8" fill="#2e2e2e" opacity="0.5" filter="url(#b1)"/>
</g>
<rect x="514.2" y="737.6" width="169.6" height="25.1" fill="none" stroke="#333435" stroke-width="1.3"/>
<clipPath id="cb1"><rect x="514.2" y="771.7" width="169.6" height="22.8"/></clipPath>
<rect x="514.2" y="771.7" width="169.6" height="22.8" fill="#dadbdc"/>
<g clip-path="url(#cb1)">
<ellipse cx="524.7" cy="781.0" rx="9.4" ry="2.1" fill="#1a1a1a" opacity="0.8075" filter="url(#b3)"/>
<ellipse cx="546.2" cy="783.0" rx="9.4" ry="2.0" fill="#1a1a1a" opacity="0.627" filter="url(#b3)"/>
<ellipse cx="566.7" cy="782.8" rx="8.9" ry="1.9" fill="#1a1a1a" opacity="0.627" filter="url(#b3)"/>
<ellipse cx="587.9" cy="782.8" rx="9.4" ry="1.9" fill="#1a1a1a" opacity="0.6649999999999999" filter="url(#b3)"/>
<ellipse cx="609.6" cy="782.5" rx="9.9" ry="2.4" fill="#1a1a1a" opacity="0.874" filter="url(#b3)"/>
<ellipse cx="630.3" cy="782.6" rx="9.9" ry="2.5" fill="#1a1a1a" opacity="0.9025" filter="url(#b3)"/>
<ellipse cx="651.5" cy="782.6" rx="9.7" ry="2.2" fill="#1a1a1a" opacity="0.874" filter="url(#b3)"/>
<ellipse cx="672.7" cy="782.5" rx="9.7" ry="2.1" fill="#1a1a1a" opacity="0.855" filter="url(#b3)"/>
</g>
<rect x="514.2" y="771.7" width="169.6" height="22.8" fill="none" stroke="#333435" stroke-width="1.3"/>
<clipPath id="cb2"><rect x="514.2" y="802.8" width="169.6" height="26.7"/></clipPath>
<rect x="514.2" y="802.8" width="169.6" height="26.7" fill="#d1d2d4"/>
<g clip-path="url(#cb2)">
<rect x="538.0" y="815.0" width="58.0" height="5.4" rx="2.7" fill="#262626" opacity="0.55" filter="url(#b1)"/>
<ellipse cx="546.2" cy="817.7" rx="10.0" ry="3.3" fill="#1a1a1a" opacity="0.6" filter="url(#b1)"/>
<ellipse cx="566.7" cy="817.7" rx="10.0" ry="3.3" fill="#1a1a1a" opacity="0.6" filter="url(#b1)"/>
<ellipse cx="587.9" cy="817.7" rx="10.0" ry="3.3" fill="#1a1a1a" opacity="0.6" filter="url(#b1)"/>
<rect x="590.0" y="814.2" width="8.0" height="5.5" rx="2.8" fill="#1a1a1a" opacity="0.4" filter="url(#b1)"/>
<rect x="642.0" y="815.4" width="39.0" height="4.4" rx="2.2" fill="#2a2a2a" opacity="0.45" filter="url(#b1)"/>
<ellipse cx="651.5" cy="817.6" rx="9.5" ry="2.7" fill="#1a1a1a" opacity="0.42" filter="url(#b1)"/>
<ellipse cx="672.7" cy="817.6" rx="9.5" ry="2.7" fill="#1a1a1a" opacity="0.42" filter="url(#b1)"/>
<rect x="516.5" y="814.5" width="11.0" height="4.0" rx="2.0" fill="#444" opacity="0.28" filter="url(#b1)"/>
<rect x="603.5" y="816.0" width="11.0" height="3.0" rx="1.5" fill="#555" opacity="0.12" filter="url(#b1)"/>
<rect x="623.0" y="815.5" width="12.0" height="3.6" rx="1.8" fill="#444" opacity="0.3" filter="url(#b1)"/>
</g>
<rect x="514.2" y="802.8" width="169.6" height="26.7" fill="none" stroke="#333435" stroke-width="1.3"/>
<clipPath id="cb3"><rect x="514.2" y="837.8" width="169.6" height="27.2"/></clipPath>
<rect x="514.2" y="837.8" width="169.6" height="27.2" fill="#cbcccd"/>
<g clip-path="url(#cb3)">
<rect x="499.0" y="849.3" width="200.0" height="6.0" rx="3.0" fill="#3a3a3a" opacity="0.6" filter="url(#b4)"/>
<ellipse cx="524.7" cy="852.5" rx="10.0" ry="4.2" fill="#333" opacity="0.3" filter="url(#b2)"/>
<ellipse cx="546.2" cy="852.5" rx="11.0" ry="4.2" fill="#333" opacity="0.4" filter="url(#b2)"/>
<ellipse cx="566.7" cy="852.5" rx="11.0" ry="4.2" fill="#333" opacity="0.4" filter="url(#b2)"/>
<ellipse cx="587.9" cy="852.5" rx="11.0" ry="4.2" fill="#333" opacity="0.48" filter="url(#b2)"/>
<ellipse cx="609.6" cy="852.5" rx="9.0" ry="4.2" fill="#333" opacity="0.12" filter="url(#b2)"/>
<ellipse cx="630.3" cy="852.5" rx="9.0" ry="4.2" fill="#333" opacity="0.2" filter="url(#b2)"/>
<ellipse cx="651.5" cy="852.5" rx="9.0" ry="4.2" fill="#333" opacity="0.2" filter="url(#b2)"/>
<ellipse cx="672.7" cy="852.5" rx="10.0" ry="4.2" fill="#333" opacity="0.28" filter="url(#b2)"/>
</g>
<rect x="514.2" y="837.8" width="169.6" height="27.2" fill="none" stroke="#333435" stroke-width="1.3"/>
<line x1="516.00" y1="871.70" x2="598.50" y2="871.70" stroke="#231f20" stroke-width="1.3" />
<line x1="602.20" y1="871.70" x2="685.00" y2="871.70" stroke="#231f20" stroke-width="1.3" />
<text x="557.20" y="888.70" font-size="12" text-anchor="middle" font-weight="normal" >ABCB1 KO</text>
<text x="557.20" y="900.90" font-size="12" text-anchor="middle" font-weight="normal" >PaKiT03</text>
<text x="643.00" y="888.70" font-size="12" text-anchor="middle" font-weight="normal" >Parental</text>
<text x="643.00" y="900.90" font-size="12" text-anchor="middle" font-weight="normal" >PaKiT03</text>
</svg>
</body></html>
